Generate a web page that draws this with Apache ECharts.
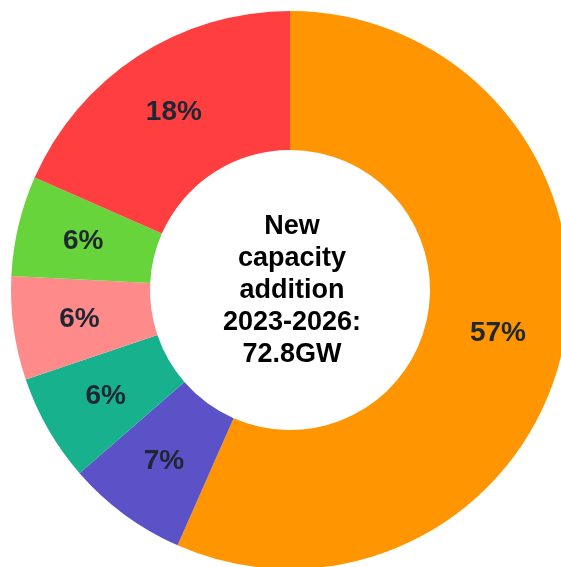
<!DOCTYPE html>
<html>
<head>
<meta charset="utf-8">
<script src="https://cdn.jsdelivr.net/npm/echarts@6/dist/echarts.min.js"></script>
<style>
  html, body { margin: 0; padding: 0; background: #fff; }
  #chart { width: 561px; height: 567px; }
</style>
</head>
<body>
<div id="chart"></div>
<script>
// share of new capacity addition, clockwise from 12 o'clock
var segments = ['Orange', 'Purple', 'Teal', 'Pink', 'Green', 'Red']
var shares = [56.6, 7.0, 6.2, 6.0, 5.8, 18.4]
var colors = ['#ff9500', '#5b52c7', '#17b18e', '#ff8a8a', '#66d43a', '#ff3f3f']
var centerLines = ['New', 'capacity', 'addition', '2023-2026:', '72.8GW']

var data = []
for (var i = 0; i < segments.length; i++) {
  data.push({ name: segments[i], value: shares[i], itemStyle: { color: colors[i] } })
}

var myChart = echarts.init(document.getElementById('chart'))
myChart.setOption({
  animation: false,
  graphic: [
    {
      type: 'text',
      x: 292,
      y: 291,
      style: {
        text: centerLines.join('\n'),
        align: 'center',
        verticalAlign: 'middle',
        font: 'bold 27px "Liberation Sans", Arial, sans-serif',
        lineHeight: 32,
        fill: '#000'
      }
    }
  ],
  series: [
    {
      type: 'pie',
      center: [290, 290],
      radius: [140, 279],
      startAngle: 90,
      clockwise: true,
      percentPrecision: 0,
      data: data,
      itemStyle: { borderWidth: 0 },
      label: {
        show: true,
        position: 'inside',
        formatter: '{d}%',
        fontFamily: '"Liberation Sans", Arial, sans-serif',
        fontWeight: 'bold',
        fontSize: 28,
        color: '#1f2733'
      },
      labelLine: { show: false }
    }
  ]
})
</script>
</body>
</html>
